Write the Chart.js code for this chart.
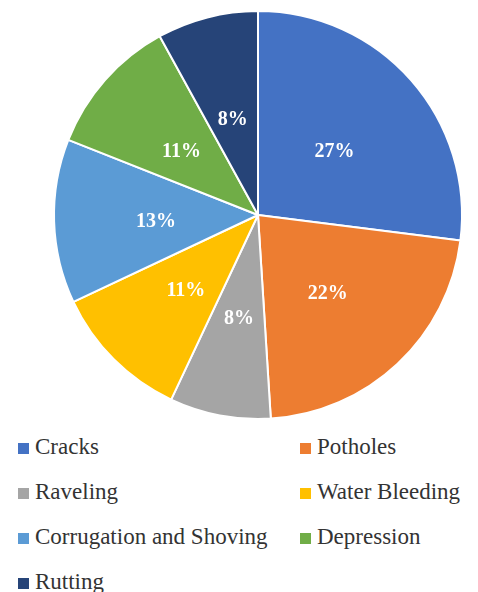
<!DOCTYPE html>
<html>
<head>
<meta charset="utf-8">
<script src="https://cdn.jsdelivr.net/npm/chart.js@4"></script>
<style>
  body { margin: 0; background: #fff; width: 478px; height: 592px; overflow: hidden; }
  #wrap { position: absolute; left: 0; top: 0; width: 478px; height: 426px; }
  #legend { position: absolute; left: 0; top: 433px; width: 478px; font-family: "Liberation Serif", "Times New Roman", "DejaVu Serif", serif; font-size: 23px; color: #333; }
  .item { position: absolute; display: flex; align-items: center; white-space: nowrap; line-height: 28px; }
  .box { width: 11px; height: 11px; margin-right: 6px; margin-top: 2px; }
</style>
</head>
<body>
<div id="wrap"><canvas id="pie"></canvas></div>
<div id="legend"></div>
<script>
/* ========= DATA ========= */
const labels = ["Cracks", "Potholes", "Raveling", "Water Bleeding", "Corrugation and Shoving", "Depression", "Rutting"];
const shares = [27, 22, 8, 11, 13, 11, 8];
const colors = ["#4472C4", "#ED7D31", "#A5A5A5", "#FFC000", "#5B9BD5", "#70AD47", "#264478"];

/* ========= LABELS IN SLICES ========= */
const sliceLabels = {
  id: "sliceLabels",
  afterDatasetsDraw(chart) {
    const ctx = chart.ctx;
    const meta = chart.getDatasetMeta(0);
    ctx.save();
    ctx.font = "bold 20px 'Liberation Serif', 'Times New Roman', 'DejaVu Serif', serif";
    ctx.fillStyle = "#fff";
    ctx.textAlign = "center";
    ctx.textBaseline = "middle";
    meta.data.forEach((arc, i) => {
      const p = arc.tooltipPosition();
      ctx.fillText(shares[i] + "%", p.x, p.y + 4);
    });
    ctx.restore();
  }
};

new Chart(document.getElementById("pie"), {
  type: "pie",
  data: {
    labels,
    datasets: [{
      data: shares,
      backgroundColor: colors,
      borderColor: "#fff",
      borderWidth: 2
    }]
  },
  options: {
    responsive: true,
    maintainAspectRatio: false,
    animation: false,
    layout: { padding: { top: 10, bottom: 6, left: 38, right: 0 } },
    plugins: { legend: { display: false }, tooltip: { enabled: false } }
  },
  plugins: [sliceLabels]
});

/* ========= LEGEND ========= */
const legend = document.getElementById("legend");
labels.forEach((name, i) => {
  const div = document.createElement("div");
  div.className = "item";
  div.style.left = (i % 2 ? 300 : 18) + "px";
  div.style.top = (Math.floor(i / 2) * 45) + "px";
  div.innerHTML = `<span class="box" style="background:${colors[i]}"></span>${name}`;
  legend.appendChild(div);
});
</script>
</body>
</html>
